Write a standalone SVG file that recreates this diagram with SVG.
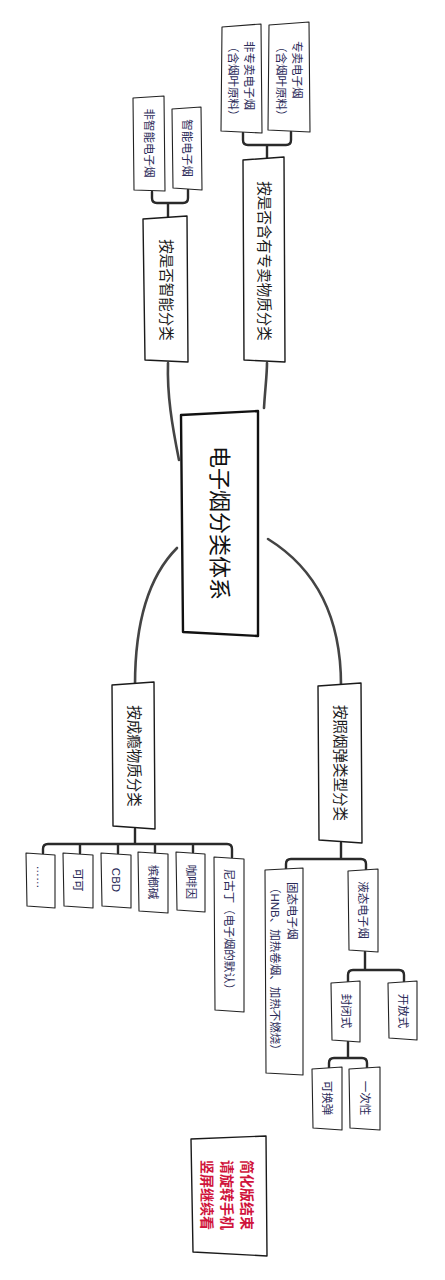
<svg xmlns="http://www.w3.org/2000/svg" width="445" height="1280" viewBox="0 0 445 1280">
<style>
.bg{fill:#ffffff}
.box{fill:#ffffff;stroke:#222222;stroke-width:1.1;stroke-linejoin:round}
.root{fill:#ffffff;stroke:#111111;stroke-width:2.4;stroke-linejoin:round}
.mid{fill:#ffffff;stroke:#1a1a1a;stroke-width:1.4;stroke-linejoin:round}
.end{fill:#ffffff;stroke:#1a1a1a;stroke-width:1.4;stroke-linejoin:round}
.c{fill:none;stroke:#2a2a2a;stroke-width:2.4;stroke-linecap:round;stroke-linejoin:round}
.curve{fill:none;stroke:#444444;stroke-width:2.6;stroke-linecap:round}
text{font-family:"Liberation Sans","Noto Sans CJK SC",sans-serif}
.t0{font-size:22px;fill:#111111}
.t1{font-size:14.5px;fill:#1a1a1a}
.t2{font-size:11.5px;fill:#2b2b58}
.t3{font-size:14px;fill:#d0143c;font-weight:bold}
</style>
<rect class="bg" x="0" y="0" width="445" height="1280"/>

<g id="connectors">
  <path class="curve" d="M179,460 C172,425 167,395 168,363"/>
  <path class="curve" d="M264,408 C265,390 267,375 267,363"/>
  <path class="curve" d="M177,548 C150,575 135,620 135,685"/>
  <path class="curve" d="M268,539 C318,570 341,620 341,685"/>
  <path class="c" d="M168,217 V203 M152,192 V198 Q152,203 157,203 H183 Q188,203 188,198 V190"/>
  <path class="c" d="M267,158 V145 M243,133 V140 Q243,145 248,145 H286 Q291,145 291,140 V132"/>
  <path class="c" d="M135,829 V844 M43,853 V849 Q43,844 48,844 H227 Q232,844 232,849 V857 M80,844 V853 M118,844 V853 M155,844 V852 M193,844 V852"/>
  <path class="c" d="M341,843 V859 M286,870 V864 Q286,859 291,859 H361 Q366,859 366,864 V870"/>
  <path class="c" d="M365,952 V970 M348,982 V975 Q348,970 353,970 H399 Q404,970 404,975 V982"/>
  <path class="c" d="M348,1042 V1058 M329,1068 V1063 Q329,1058 334,1058 H362 Q367,1058 367,1063 V1068"/>
</g>

<g id="root">
  <polygon class="root" points="181,415 258,411 258,636 183,632"/>
  <text class="t0" text-anchor="middle" dominant-baseline="central" transform="translate(219,523) rotate(90)">电子烟分类体系</text>
</g>

<g id="n-smart">
  <polygon class="mid" points="143,219 187,216 188,362 145,360"/>
  <text class="t1" text-anchor="middle" dominant-baseline="central" transform="translate(166,290) rotate(90)">按是否智能分类</text>
</g>
<g id="n-nonsmart-ecig">
  <polygon class="box" points="133,98 164,96 165,191 134,190"/>
  <text class="t2" text-anchor="middle" dominant-baseline="central" transform="translate(149,143) rotate(90)">非智能电子烟</text>
</g>
<g id="n-smart-ecig">
  <polygon class="box" points="172,109 201,107 202,190 173,188"/>
  <text class="t2" text-anchor="middle" dominant-baseline="central" transform="translate(187,148) rotate(90)">智能电子烟</text>
</g>

<g id="n-monopoly">
  <polygon class="mid" points="243,160 284,157 285,362 244,360"/>
  <text class="t1" text-anchor="middle" dominant-baseline="central" transform="translate(264,261) rotate(90)">按是否含有专卖物质分类</text>
</g>
<g id="n-nonmonopoly-ecig">
  <polygon class="box" points="222,27 261,24 262,133 221,131"/>
  <text class="t2" transform="translate(241,41) rotate(90)"><tspan x="0" y="-4">非专卖电子烟</tspan><tspan x="0" y="12">（含烟叶原料）</tspan></text>
</g>
<g id="n-monopoly-ecig">
  <polygon class="box" points="269,25 309,22 310,132 268,130"/>
  <text class="t2" transform="translate(289,41) rotate(90)"><tspan x="0" y="-4">专卖电子烟</tspan><tspan x="0" y="12">（含烟叶原料）</tspan></text>
</g>

<g id="n-addictive">
  <polygon class="mid" points="112,685 154,682 155,829 113,826"/>
  <text class="t1" text-anchor="middle" dominant-baseline="central" transform="translate(134,756) rotate(90)">按成瘾物质分类</text>
</g>
<g id="n-etc">
  <polygon class="box" points="26,853 55,855 55,908 27,906"/>
  <text class="t2" text-anchor="middle" dominant-baseline="central" transform="translate(41,877) rotate(90)">……</text>
</g>
<g id="n-cocoa">
  <polygon class="box" points="63,853 93,855 93,908 64,906"/>
  <text class="t2" text-anchor="middle" dominant-baseline="central" transform="translate(78,880) rotate(90)">可可</text>
</g>
<g id="n-cbd">
  <polygon class="box" points="101,853 131,855 131,908 102,906"/>
  <text class="t2" text-anchor="middle" dominant-baseline="central" transform="translate(116,880) rotate(90)">CBD</text>
</g>
<g id="n-arecoline">
  <polygon class="box" points="138,852 168,854 168,913 139,911"/>
  <text class="t2" text-anchor="middle" dominant-baseline="central" transform="translate(153,882) rotate(90)">槟榔碱</text>
</g>
<g id="n-caffeine">
  <polygon class="box" points="176,852 205,854 205,912 177,910"/>
  <text class="t2" text-anchor="middle" dominant-baseline="central" transform="translate(191,882) rotate(90)">咖啡因</text>
</g>
<g id="n-nicotine">
  <polygon class="box" points="214,857 244,859 244,1012 215,1010"/>
  <text class="t2" text-anchor="middle" dominant-baseline="central" transform="translate(229,932) rotate(90)">尼古丁（电子烟的默认）</text>
</g>

<g id="n-cartridge">
  <polygon class="mid" points="318,686 361,683 362,843 319,840"/>
  <text class="t1" text-anchor="middle" dominant-baseline="central" transform="translate(340,763) rotate(90)">按照烟弹类型分类</text>
</g>
<g id="n-solid">
  <polygon class="box" points="265,870 303,868 303,1075 266,1073"/>
  <text class="t2" transform="translate(284,882) rotate(90)"><tspan x="0" y="-4">固态电子烟</tspan><tspan x="0" y="13">（HNB、加热卷烟、加热不燃烧）</tspan></text>
</g>
<g id="n-liquid">
  <polygon class="box" points="348,871 378,869 378,952 349,950"/>
  <text class="t2" text-anchor="middle" dominant-baseline="central" transform="translate(363,910) rotate(90)">液态电子烟</text>
</g>
<g id="n-closed">
  <polygon class="box" points="331,983 360,981 360,1042 332,1040"/>
  <text class="t2" text-anchor="middle" dominant-baseline="central" transform="translate(346,1011) rotate(90)">封闭式</text>
</g>
<g id="n-open">
  <polygon class="box" points="388,983 417,981 417,1040 389,1038"/>
  <text class="t2" text-anchor="middle" dominant-baseline="central" transform="translate(403,1011) rotate(90)">开放式</text>
</g>
<g id="n-replaceable">
  <polygon class="box" points="312,1069 342,1067 342,1130 313,1128"/>
  <text class="t2" text-anchor="middle" dominant-baseline="central" transform="translate(327,1098) rotate(90)">可换弹</text>
</g>
<g id="n-disposable">
  <polygon class="box" points="349,1069 380,1067 380,1130 350,1128"/>
  <text class="t2" text-anchor="middle" dominant-baseline="central" transform="translate(365,1098) rotate(90)">一次性</text>
</g>

<g id="n-end">
  <polygon class="end" points="191,1139 266,1136 267,1256 193,1252"/>
  <text class="t3" text-anchor="middle" transform="translate(227,1195) rotate(90)"><tspan x="0" y="-15">简化版结束</tspan><tspan x="0" y="5">请旋转手机</tspan><tspan x="0" y="25">竖屏继续看</tspan></text>
</g>
</svg>
